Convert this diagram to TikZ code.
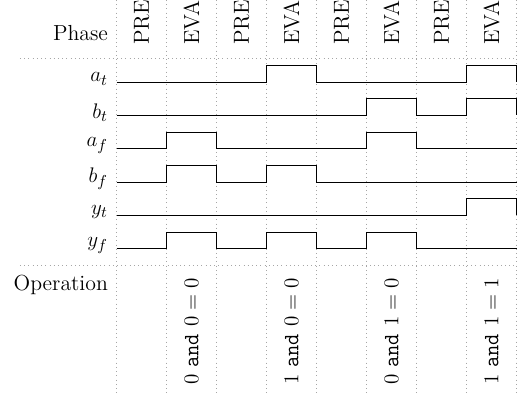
\documentclass[tikz,border=0pt]{standalone}
\usepackage{tikz}
\usetikzlibrary{positioning}
\usepackage{amsmath,amssymb}

\begin{document}
\begin{tikzpicture}[
    x=1cm, y=1cm,
    font=\fontsize{12.4}{15}\selectfont,
    guide/.style={gray!70, dotted},
    wave/.style={black, line join=miter},
    sig/.style={anchor=east},
    phase/.style={rotate=90, anchor=west, inner sep=0pt},
    oper/.style={rotate=90, anchor=east, inner sep=0pt}
    ]
    \useasboundingbox (-2.333,0) rectangle (8.007,-7.92);

    % grid
    \draw[guide] (-1.933,-1.16) -- (8.007,-1.16);
    \draw[guide] (-1.933,-5.30) -- (8.007,-5.30);
    \draw[guide] (0,0) -- (0,-7.92) (1,0) -- (1,-7.92) (2,0) -- (2,-7.92)
                 (3,0) -- (3,-7.92) (4,0) -- (4,-7.92) (5,0) -- (5,-7.92)
                 (6,0) -- (6,-7.92) (7,0) -- (7,-7.92) (8,0) -- (8,-7.92);

    % phases
    \node[sig] (lphase) at (-0.05,-0.67) {Phase};
    \node[phase] (ph1) at (0.5,-0.9) {PRE};
    \node[phase] (ph2) at (1.5,-0.9) {EVA};
    \node[phase] (ph3) at (2.5,-0.9) {PRE};
    \node[phase] (ph4) at (3.5,-0.9) {EVA};
    \node[phase] (ph5) at (4.5,-0.9) {PRE};
    \node[phase] (ph6) at (5.5,-0.9) {EVA};
    \node[phase] (ph7) at (6.5,-0.9) {PRE};
    \node[phase] (ph8) at (7.5,-0.9) {EVA};

    % signals
    \coordinate (at) at (0,-1.640);
    \coordinate (bt) at (0,-2.307);
    \coordinate (af) at (0,-2.973);
    \coordinate (bf) at (0,-3.640);
    \coordinate (yt) at (0,-4.307);
    \coordinate (yf) at (0,-4.973);

    \node[sig] (lat) at (-0.05,-1.58) {$a_t$};
    \node[sig] (lbt) at (-0.05,-2.247) {$b_t$};
    \node[sig] (laf) at (-0.05,-2.913) {$a_f$};
    \node[sig] (lbf) at (-0.05,-3.58) {$b_f$};
    \node[sig] (lyt) at (-0.05,-4.247) {$y_t$};
    \node[sig] (lyf) at (-0.05,-4.913) {$y_f$};

    \draw[wave] (at) -- ++(3,0) -- ++(0,.33) -- ++(1,0) -- ++(0,-.33)
        -- ++(3,0) -- ++(0,.33) -- ++(1,0) -- ++(0,-.33);
    \draw[wave] (bt) -- ++(5,0) -- ++(0,.33) -- ++(1,0) -- ++(0,-.33)
        -- ++(1,0) -- ++(0,.33) -- ++(1,0) -- ++(0,-.33);
    \draw[wave] (af) -- ++(1,0) -- ++(0,.33) -- ++(1,0) -- ++(0,-.33)
        -- ++(3,0) -- ++(0,.33) -- ++(1,0) -- ++(0,-.33) -- ++(2,0);
    \draw[wave] (bf) -- ++(1,0) -- ++(0,.33) -- ++(1,0) -- ++(0,-.33)
        -- ++(1,0) -- ++(0,.33) -- ++(1,0) -- ++(0,-.33) -- ++(4,0);
    \draw[wave] (yt) -- ++(7,0) -- ++(0,.33) -- ++(1,0) -- ++(0,-.33);
    \draw[wave] (yf) -- ++(1,0) -- ++(0,.33) -- ++(1,0) -- ++(0,-.33)
        -- ++(1,0) -- ++(0,.33) -- ++(1,0) -- ++(0,-.33)
        -- ++(1,0) -- ++(0,.33) -- ++(1,0) -- ++(0,-.33) -- ++(2,0);

    % operations
    \node[sig] (lop) at (-0.05,-5.69) {Operation};
    \node[oper] (op1) at (1.5,-5.56) {$0$ \texttt{and} $0 = 0$};
    \node[oper] (op2) at (3.5,-5.56) {$1$ \texttt{and} $0 = 0$};
    \node[oper] (op3) at (5.5,-5.56) {$0$ \texttt{and} $1 = 0$};
    \node[oper] (op4) at (7.5,-5.56) {$1$ \texttt{and} $1 = 1$};

\end{tikzpicture}
\end{document}
